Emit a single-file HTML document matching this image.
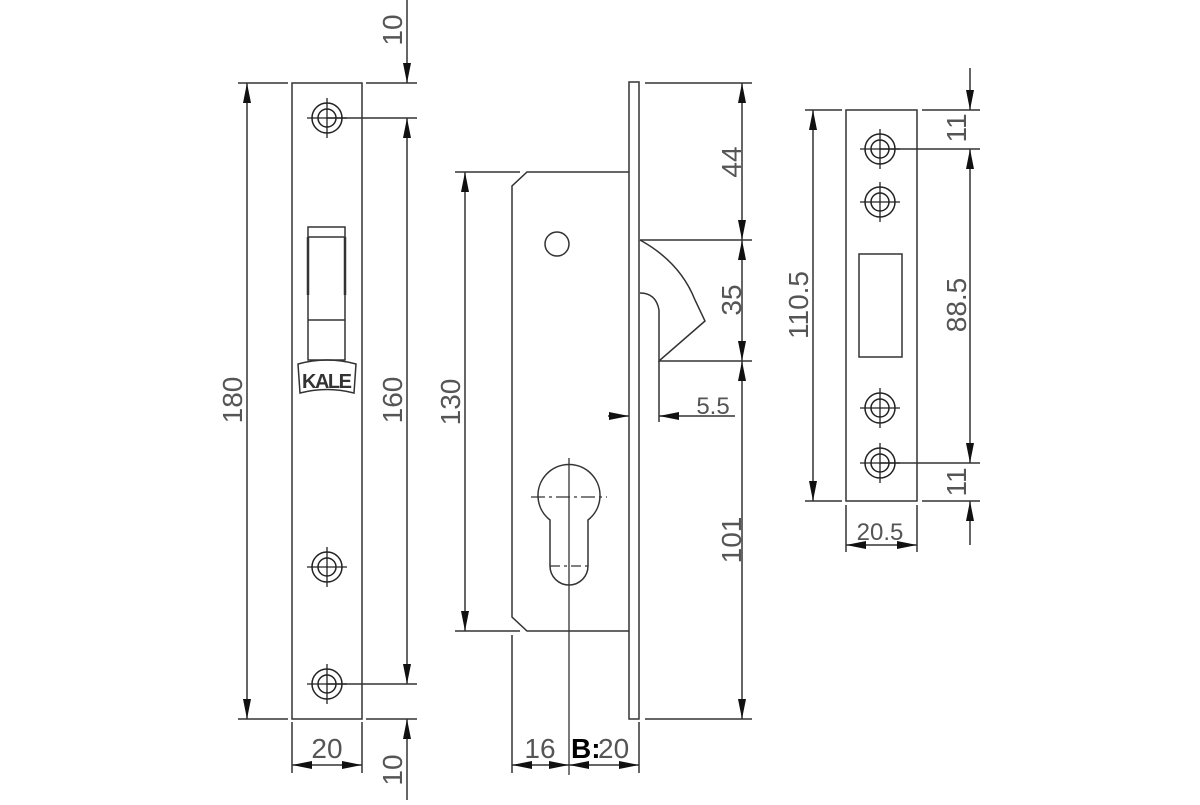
<!DOCTYPE html>
<html><head><style>html,body{margin:0;padding:0;background:#fff}</style></head><body>
<svg width="1200" height="800" viewBox="0 0 1200 800" xmlns="http://www.w3.org/2000/svg" font-family="Liberation Sans, sans-serif">
<defs>
<marker id="a" viewBox="0 0 20 8" refX="20" refY="4" markerWidth="20" markerHeight="8" markerUnits="userSpaceOnUse" orient="auto-start-reverse"><path d="M0,0 L20,4 L0,8z" fill="#111"/></marker>
<g id="h"><circle r="15" fill="none" stroke="#222" stroke-width="1.5"/><circle r="9" fill="none" stroke="#222" stroke-width="1.5"/><line x1="-20" x2="20" stroke="#222" stroke-width="1.3"/><line y1="-20" y2="20" stroke="#222" stroke-width="1.3"/></g>
</defs>
<g stroke="#333" stroke-width="1.5" fill="none">
<rect x="292" y="83" width="70" height="636"/>
<rect x="308" y="227" width="37" height="133"/>
<line x1="308" y1="237" x2="345" y2="237"/>
<line x1="308" y1="320" x2="345" y2="320"/>
<line x1="308" y1="237" x2="308" y2="295" stroke-width="2.5"/>
<line x1="345" y1="237" x2="345" y2="295" stroke-width="2.5"/>
<line x1="238" y1="83" x2="288" y2="83"/><line x1="238" y1="719" x2="288" y2="719"/>
<line x1="247" y1="83" x2="247" y2="719" marker-start="url(#a)" marker-end="url(#a)"/>
<line x1="366" y1="83" x2="417" y2="83"/><line x1="366" y1="719" x2="417" y2="719"/>
<line x1="327" y1="118" x2="417" y2="118"/><line x1="327" y1="684" x2="417" y2="684"/>
<line x1="407" y1="118" x2="407" y2="684" marker-start="url(#a)" marker-end="url(#a)"/>
<line x1="407" y1="0" x2="407" y2="83" marker-end="url(#a)"/>
<line x1="407" y1="800" x2="407" y2="719" marker-end="url(#a)"/>
<line x1="292" y1="722" x2="292" y2="773"/><line x1="362" y1="722" x2="362" y2="773"/>
<line x1="292" y1="765" x2="362" y2="765" marker-start="url(#a)" marker-end="url(#a)"/>
<rect x="629" y="82" width="10" height="637"/>
<path d="M629,172 L527,172 L512,186 L512,617 L527,631 L629,631"/>
<line x1="455" y1="172" x2="520" y2="172"/><line x1="455" y1="631" x2="520" y2="631"/>
<line x1="465" y1="172" x2="465" y2="631" marker-start="url(#a)" marker-end="url(#a)"/>
<circle cx="557" cy="244" r="12"/>
<path d="M550,520 A31,31 0 1 1 588,520 L588,566 A19,19 0 0 1 550,566 Z"/>
<line x1="569" y1="458" x2="569" y2="775" stroke-width="1.3"/>
<line x1="531" y1="497" x2="607" y2="497" stroke-dasharray="14,4,3,4" stroke-width="1.3"/>
<line x1="550" y1="566" x2="588" y2="566" stroke-dasharray="10,4,3,4" stroke-width="1.2"/>
<path d="M640,240 Q680,262 695,300 L705,321 L659,361 L659,310 Q656,293 640,293"/>
<line x1="645" y1="83" x2="752" y2="83"/><line x1="640" y1="240" x2="752" y2="240"/>
<line x1="659" y1="361" x2="752" y2="361"/><line x1="645" y1="719" x2="752" y2="719"/>
<line x1="742" y1="83" x2="742" y2="240" marker-start="url(#a)" marker-end="url(#a)"/>
<line x1="742" y1="240" x2="742" y2="361" marker-start="url(#a)" marker-end="url(#a)"/>
<line x1="742" y1="361" x2="742" y2="719" marker-start="url(#a)" marker-end="url(#a)"/>
<line x1="659" y1="361" x2="659" y2="422"/>
<line x1="608" y1="416" x2="629" y2="416" marker-end="url(#a)"/>
<line x1="735" y1="416" x2="659" y2="416" marker-end="url(#a)"/>
<line x1="512" y1="635" x2="512" y2="773"/><line x1="639" y1="722" x2="639" y2="773"/>
<line x1="512" y1="765" x2="569" y2="765" marker-start="url(#a)" marker-end="url(#a)"/>
<line x1="569" y1="765" x2="639" y2="765" marker-start="url(#a)" marker-end="url(#a)"/>
<rect x="846" y="110" width="71" height="391"/>
<rect x="859" y="254" width="43" height="103"/>
<line x1="805" y1="110" x2="842" y2="110"/><line x1="805" y1="501" x2="842" y2="501"/>
<line x1="813" y1="110" x2="813" y2="501" marker-start="url(#a)" marker-end="url(#a)"/>
<line x1="922" y1="110" x2="980" y2="110"/><line x1="922" y1="501" x2="980" y2="501"/>
<line x1="880" y1="149" x2="980" y2="149"/><line x1="880" y1="463" x2="980" y2="463"/>
<line x1="970" y1="68" x2="970" y2="110" marker-end="url(#a)"/>
<line x1="970" y1="149" x2="970" y2="463" marker-start="url(#a)" marker-end="url(#a)"/>
<line x1="970" y1="545" x2="970" y2="501" marker-end="url(#a)"/>
<line x1="846" y1="505" x2="846" y2="552"/><line x1="917" y1="505" x2="917" y2="552"/>
<line x1="846" y1="545" x2="917" y2="545" marker-start="url(#a)" marker-end="url(#a)"/>
</g>
<use href="#h" x="327" y="118"/><use href="#h" x="327" y="567"/><use href="#h" x="327" y="684"/>
<use href="#h" x="880" y="149"/><use href="#h" x="880" y="202"/><use href="#h" x="880" y="408"/><use href="#h" x="880" y="463"/>
<g><path d="M298,364 Q327,356 356,364 L354,393 Q327,386 300,393 Z" fill="none" stroke="#333" stroke-width="1.5"/>
<text x="327" y="388" font-size="20" text-anchor="middle" fill="#333" font-weight="bold" textLength="50">KALE</text></g>
<g fill="#555" font-size="28" text-anchor="middle">
<text transform="translate(242,400) rotate(-90)">180</text>
<text transform="translate(402,400) rotate(-90)">160</text>
<text transform="translate(402,30) rotate(-90)">10</text>
<text transform="translate(402,770) rotate(-90)">10</text>
<text x="327" y="758">20</text>
<text transform="translate(460,402) rotate(-90)">130</text>
<text transform="translate(741,162) rotate(-90)">44</text>
<text transform="translate(741,300) rotate(-90)">35</text>
<text transform="translate(741,540) rotate(-90)">101</text>
<text x="713" y="414" font-size="24">5.5</text>
<text x="540" y="758">16</text>
<text x="571" y="758" font-weight="bold" fill="#000" text-anchor="start">B:</text>
<text x="598" y="758" text-anchor="start">20</text>
<text transform="translate(808,305) rotate(-90)">110.5</text>
<text transform="translate(966,128) rotate(-90)">11</text>
<text transform="translate(966,305) rotate(-90)">88.5</text>
<text transform="translate(966,482) rotate(-90)">11</text>
<text x="880" y="540" font-size="24">20.5</text>
</g>
</svg>
</body></html>
